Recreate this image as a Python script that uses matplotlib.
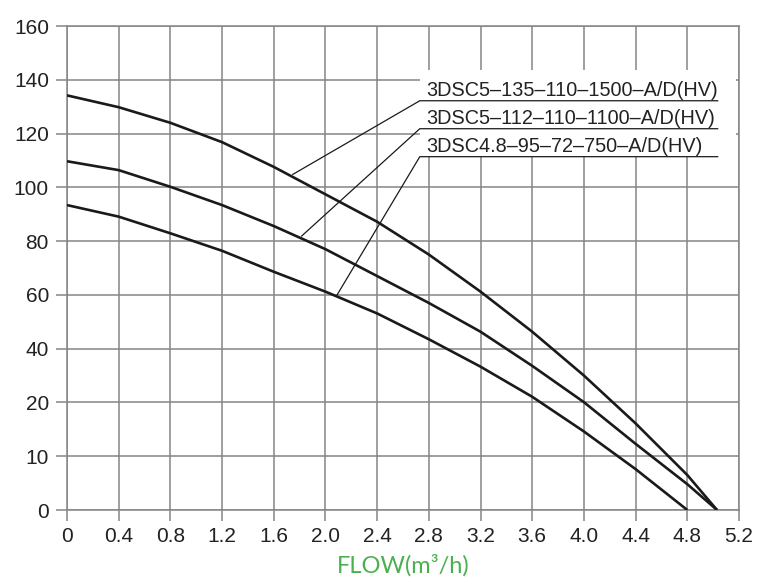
import numpy as np
import matplotlib.pyplot as plt

# head axis uses uneven steps: 0, 10, 20, 40 ... 160 evenly spaced
y_ticks = [0, 10, 20, 40, 60, 80, 100, 120, 140, 160]
x_ticks = [0, 0.4, 0.8, 1.2, 1.6, 2.0, 2.4, 2.8, 3.2, 3.6, 4.0, 4.4, 4.8, 5.2]
x_labels = ["0", "0.4", "0.8", "1.2", "1.6", "2.0", "2.4", "2.8", "3.2",
            "3.6", "4.0", "4.4", "4.8", "5.2"]

names = ["3DSC5\u2012135\u2012110\u20121500\u2012A/D(HV)",
         "3DSC5\u2012112\u2012110\u20121100\u2012A/D(HV)",
         "3DSC4.8\u201295\u201272\u2012750\u2012A/D(HV)"]

flow_1 = [0, 0.4, 0.8, 1.2, 1.6, 2.0, 2.4, 2.8, 3.2, 3.6, 4.0, 4.4, 4.8, 5.03]
head_1 = [134.2, 129.8, 124.0, 116.8, 107.6, 97.4, 87.2, 75.0, 61.2, 46.3, 30.0, 16.1, 6.5, 0]

flow_2 = [0, 0.4, 0.8, 1.2, 1.6, 2.0, 2.4, 2.8, 3.2, 3.6, 4.0, 4.4, 4.8, 5.03]
head_2 = [109.7, 106.4, 100.2, 93.4, 85.6, 77.0, 67.0, 57.0, 46.3, 33.6, 20.1, 12.3, 4.8, 0]

flow_3 = [0, 0.4, 0.8, 1.2, 1.6, 2.0, 2.4, 2.8, 3.2, 3.6, 4.0, 4.4, 4.8]
head_3 = [93.4, 89.1, 82.9, 76.4, 68.6, 61.2, 53.1, 43.5, 33.3, 22.1, 14.6, 7.6, 0]

# where each leader line touches its curve
leader_x = [1.747, 1.816, 2.09]
leader_y = [104.8, 81.9, 60.0]
under_y = [132.2, 121.8, 111.4]

pos = np.arange(len(y_ticks))


def forward(v):
    return np.interp(v, y_ticks, pos)


def inverse(p):
    return np.interp(p, pos, y_ticks)


plt.rcParams["font.family"] = ["Liberation Sans", "DejaVu Sans"]

fig = plt.figure(figsize=(7.74, 5.84), dpi=100)
ax = fig.add_axes([67 / 774, 74 / 584, 672 / 774, 484 / 584])
ax.set_yscale("function", functions=(forward, inverse))
ax.set_xlim(0, 5.2)
ax.set_ylim(0, 160)

grid_c = "#858585"
ax.set_xticks(x_ticks, x_labels)
ax.set_yticks(y_ticks, [str(v) for v in y_ticks])
ax.minorticks_off()
ax.grid(True, color=grid_c, lw=1.1)
ax.tick_params(axis="both", colors=grid_c, labelcolor="#222222", labelsize=15,
               length=8, width=1.1, direction="out")
ax.tick_params(axis="x", pad=4)
ax.tick_params(axis="y", pad=5)
for s in ax.spines.values():
    s.set_color(grid_c)
    s.set_linewidth(1.1)

for f, h in [(flow_1, head_1), (flow_2, head_2), (flow_3, head_3)]:
    ax.plot(f, h, color="#1a1a1a", lw=1.9, solid_capstyle="butt", zorder=3)

# white panel behind the labels
ax.fill_between([2.73, 5.18], 111.3, 143.6, color="white", zorder=2, lw=0)

for i in range(3):
    ax.plot([leader_x[i], 2.73, 5.035], [leader_y[i], under_y[i], under_y[i]],
            color="#1a1a1a", lw=0.9, zorder=4)
    ax.text(2.78, under_y[i] + 0.3, names[i], fontsize=14.3, color="#222222",
            ha="left", va="bottom", zorder=5)

ax.set_xlabel("FLOW(m\u00b3/h)", color="#4cb050", fontsize=17, labelpad=6,
              family=["Lato", "DejaVu Sans"])

fig.savefig("out.png", dpi=100)
